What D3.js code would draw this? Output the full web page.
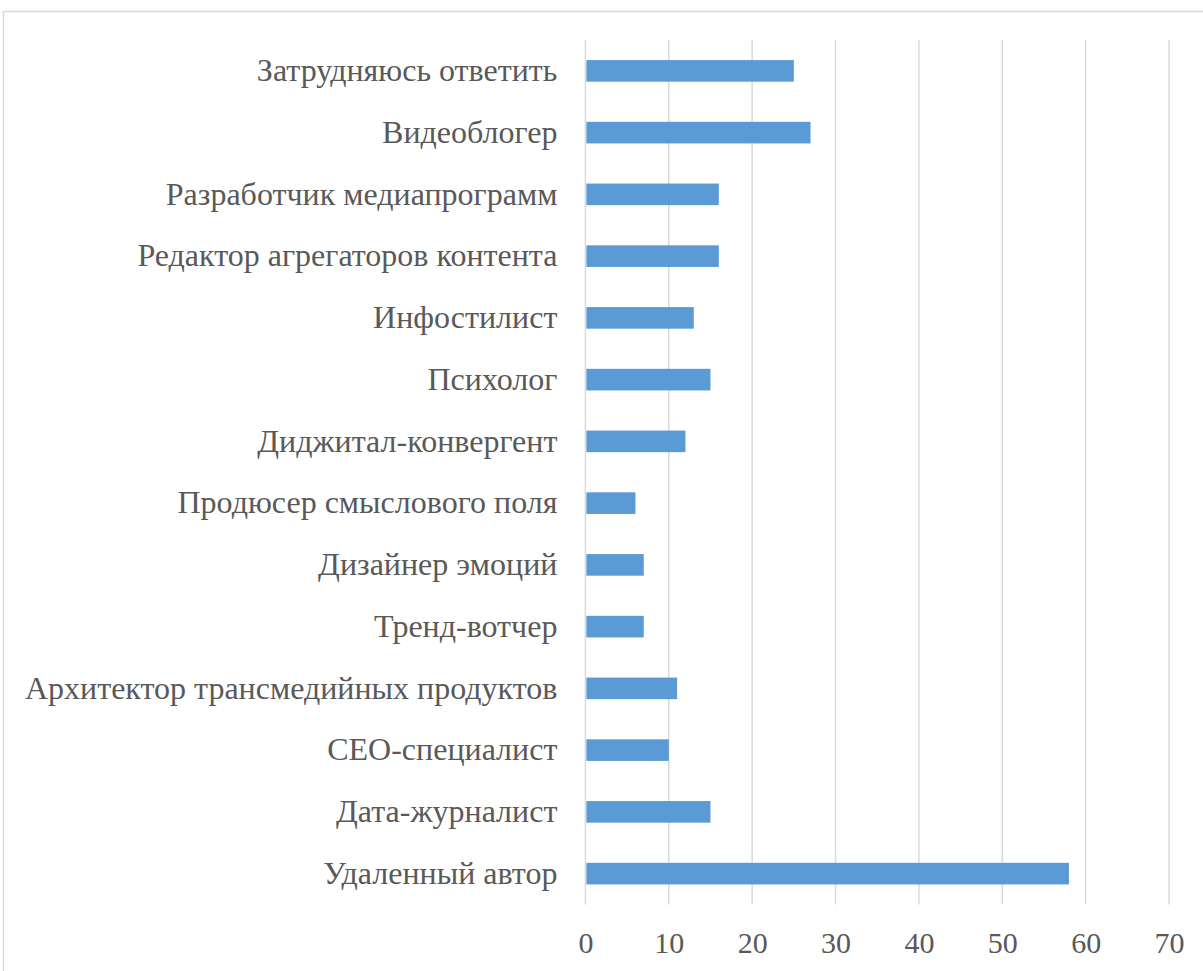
<!DOCTYPE html>
<html>
<head>
<meta charset="utf-8">
<script src="https://cdn.jsdelivr.net/npm/d3@7"></script>
<style>
  html, body { margin: 0; padding: 0; background: #fff; }
  svg { display: block; }
</style>
</head>
<body>
<script>
const categories = [
  "Затрудняюсь ответить",
  "Видеоблогер",
  "Разработчик медиапрограмм",
  "Редактор агрегаторов контента",
  "Инфостилист",
  "Психолог",
  "Диджитал-конвергент",
  "Продюсер смыслового поля",
  "Дизайнер эмоций",
  "Тренд-вотчер",
  "Архитектор трансмедийных продуктов",
  "СЕО-специалист",
  "Дата-журналист",
  "Удаленный автор"
];
const values = [25, 27, 16, 16, 13, 15, 12, 6, 7, 7, 11, 10, 15, 58];
const tickValues = [0, 10, 20, 30, 40, 50, 60, 70];

const W = 1203, H = 971;
const plot = { left: 585.4, right: 1169, top: 40, bottom: 904.5 };
const FONT = '"Liberation Serif"';

const svg = d3.select("body").append("svg").attr("width", W).attr("height", H);

// outer frame
svg.append("rect")
  .attr("x", 3.5).attr("y", 11.5)
  .attr("width", 1220).attr("height", 1000)
  .attr("fill", "none").attr("stroke", "#d9d9d9").attr("stroke-width", 1.5);

const x = d3.scaleLinear().domain([0, 70]).range([plot.left, plot.right]);
const y = d3.scaleBand().domain(categories).range([plot.top, plot.bottom]).paddingInner(0.65).paddingOuter(0.325);

// gridlines
svg.append("g").selectAll("line").data(tickValues).join("line")
  .attr("x1", d => x(d)).attr("x2", d => x(d))
  .attr("y1", plot.top).attr("y2", plot.bottom)
  .attr("stroke", "#d9d9d9").attr("stroke-width", 1.5);

// bars
svg.append("g").selectAll("rect").data(values).join("rect")
  .attr("x", x(0) + 1)
  .attr("y", (d, i) => y(categories[i]))
  .attr("width", d => x(d) - x(0) - 1)
  .attr("height", y.bandwidth())
  .attr("fill", "#5b9bd5");

// category labels
const yAxis = d3.axisLeft(y).tickSize(0).tickPadding(28);
const gy = svg.append("g").attr("transform", `translate(${plot.left},0)`).call(yAxis);
gy.attr("font-family", FONT).attr("font-size", 32);
gy.select(".domain").remove();
gy.selectAll("text")
  .attr("font-family", FONT)
  .attr("font-size", 32)
  .attr("fill", "#595959");

// x axis labels
const xAxis = d3.axisBottom(x).tickValues(tickValues).tickSize(0).tickPadding(0);
const gx = svg.append("g").attr("transform", `translate(0,${plot.bottom})`).call(xAxis);
gx.attr("font-family", FONT).attr("font-size", 30);
gx.select(".domain").remove();
gx.selectAll("text")
  .attr("font-family", FONT)
  .attr("font-size", 30)
  .attr("y", 48.5)
  .attr("dy", null)
  .attr("fill", "#595959");
</script>
</body>
</html>
